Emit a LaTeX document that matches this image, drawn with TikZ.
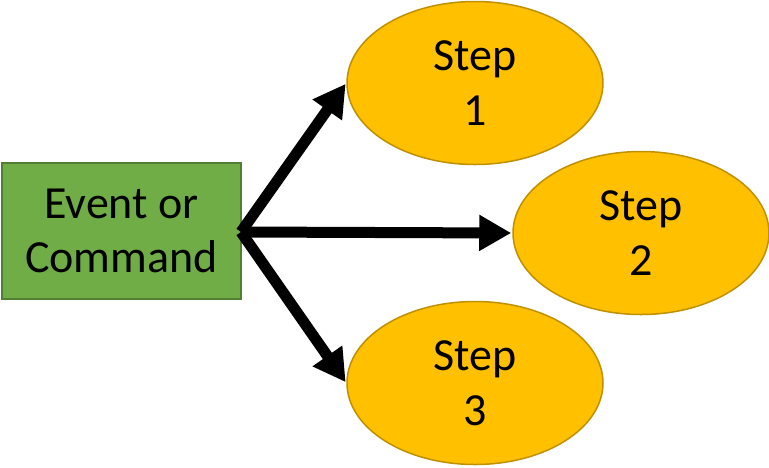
\documentclass[tikz,border=0pt]{standalone}
\usepackage{fontspec}
\setmainfont{Carlito}
\usetikzlibrary{shapes.geometric,arrows.meta}
\definecolor{gfill}{HTML}{70AD47}
\definecolor{gline}{HTML}{507E32}
\definecolor{ofill}{HTML}{FFC000}
\definecolor{oline}{HTML}{BF9000}
\tikzset{
  srcbox/.style={draw=gline, fill=gfill, line width=1.5pt, minimum width=239pt, minimum height=136pt, inner sep=0pt, align=center, font=\fontsize{46}{54}\selectfont},
  stepnode/.style={ellipse, draw=oline, fill=ofill, line width=1.5pt, minimum width=256pt, minimum height=163pt, inner sep=0pt, align=center, font=\fontsize{46}{55}\selectfont},
  bigarrow/.style={line width=11pt, -{Triangle[length=32pt,width=34pt]}, shorten >=1pt}
}
\begin{document}
\begin{tikzpicture}[x=1pt,y=-1pt]
\useasboundingbox (0,0) rectangle (769,467);
\node[srcbox] (src) at (121.5,231) {Event or\\Command};
\node[stepnode] (s1) at (475,83) {Step\\1};
\node[stepnode] (s2) at (641,233) {Step\\2};
\node[stepnode] (s3) at (475,383) {Step\\3};
\coordinate (hub) at (241,232);
\draw[bigarrow] (hub) -- (s1.west);
\draw[bigarrow] (hub) -- (s2.west);
\draw[bigarrow] (hub) -- (s3.west);
\end{tikzpicture}
\end{document}
